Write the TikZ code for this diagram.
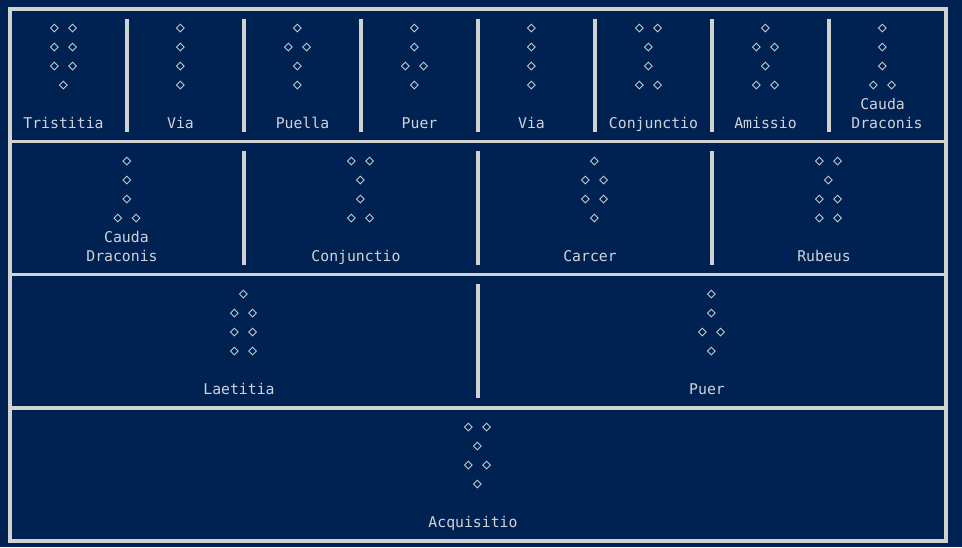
\documentclass[tikz,border=0pt]{standalone}
\usepackage{fontspec}
\setmonofont{DejaVu Sans Mono}
\usetikzlibrary{positioning}
\definecolor{navy}{RGB}{0,34,82}
\definecolor{rulegray}{RGB}{210,210,210}
\definecolor{inkgray}{RGB}{208,211,216}

\begin{document}
\begin{tikzpicture}[x=1pt,y=-1pt]
\tikzstyle{every node}+=[inner sep=0pt]
\tikzstyle{dia}=[text=inkgray,font=\ttfamily\fontsize{15.2}{19}\selectfont,yshift=-1.5pt]
\tikzstyle{figname}=[text=inkgray,font=\ttfamily\fontsize{14.8}{19}\selectfont,align=center,anchor=base]
\tikzstyle{rule}=[draw=rulegray,line width=3.6pt]
\fill [navy] (0,0) rectangle (962,547);
% frame and row rules
\draw [rule] (10,9) rectangle (946,541);
\draw [rule] (10,141.5) -- (946,141.5);
\draw [rule] (10,274.5) -- (946,274.5);
\draw [rule] (10,408) -- (946,408);
% column rules
\draw [rule] (127,18.5) -- (127,131.5);
\draw [rule] (244,18.5) -- (244,131.5);
\draw [rule] (361,18.5) -- (361,131.5);
\draw [rule] (478,18.5) -- (478,131.5);
\draw [rule] (595,18.5) -- (595,131.5);
\draw [rule] (712,18.5) -- (712,131.5);
\draw [rule] (829,18.5) -- (829,131.5);
\draw [rule] (244,151) -- (244,265);
\draw [rule] (478,151) -- (478,265);
\draw [rule] (712,151) -- (712,265);
\draw [rule] (478,284) -- (478,398);
% row 1
\node [dia] (tristitia-1) at (63.5,27) {◇ ◇};
\node [dia] (tristitia-2) at (63.5,46) {◇ ◇};
\node [dia] (tristitia-3) at (63.5,65) {◇ ◇};
\node [dia] (tristitia-4) at (63.5,84) {◇};
\node [figname] (tristitia) at (63.5,128) {Tristitia};
\node [dia] (via-1) at (180.5,27) {◇};
\node [dia] (via-2) at (180.5,46) {◇};
\node [dia] (via-3) at (180.5,65) {◇};
\node [dia] (via-4) at (180.5,84) {◇};
\node [figname] (via) at (180.5,128) {Via};
\node [dia] (puella-1) at (297.5,27) {◇};
\node [dia] (puella-2) at (297.5,46) {◇ ◇};
\node [dia] (puella-3) at (297.5,65) {◇};
\node [dia] (puella-4) at (297.5,84) {◇};
\node [figname] (puella) at (302.5,128) {Puella};
\node [dia] (puer-1) at (414.5,27) {◇};
\node [dia] (puer-2) at (414.5,46) {◇};
\node [dia] (puer-3) at (414.5,65) {◇ ◇};
\node [dia] (puer-4) at (414.5,84) {◇};
\node [figname] (puer) at (419.5,128) {Puer};
\node [dia] (via2-1) at (531.5,27) {◇};
\node [dia] (via2-2) at (531.5,46) {◇};
\node [dia] (via2-3) at (531.5,65) {◇};
\node [dia] (via2-4) at (531.5,84) {◇};
\node [figname] (via2) at (531.5,128) {Via};
\node [dia] (conjunctio-1) at (648.5,27) {◇ ◇};
\node [dia] (conjunctio-2) at (648.5,46) {◇};
\node [dia] (conjunctio-3) at (648.5,65) {◇};
\node [dia] (conjunctio-4) at (648.5,84) {◇ ◇};
\node [figname] (conjunctio) at (653.5,128) {Conjunctio};
\node [dia] (amissio-1) at (765.5,27) {◇};
\node [dia] (amissio-2) at (765.5,46) {◇ ◇};
\node [dia] (amissio-3) at (765.5,65) {◇};
\node [dia] (amissio-4) at (765.5,84) {◇ ◇};
\node [figname] (amissio) at (765.5,128) {Amissio};
\node [dia] (cauda-1) at (882.5,27) {◇};
\node [dia] (cauda-2) at (882.5,46) {◇};
\node [dia] (cauda-3) at (882.5,65) {◇};
\node [dia] (cauda-4) at (882.5,84) {◇ ◇};
\node [figname] (cauda) at (887,128) {Cauda\phantom{a}\\Draconis};
% row 2
\node [dia] (cauda2-1) at (127,160) {◇};
\node [dia] (cauda2-2) at (127,179) {◇};
\node [dia] (cauda2-3) at (127,198) {◇};
\node [dia] (cauda2-4) at (127,217) {◇ ◇};
\node [figname] (cauda2) at (122,261) {\phantom{a}Cauda\\Draconis};
\node [dia] (conjunctio2-1) at (360.5,160) {◇ ◇};
\node [dia] (conjunctio2-2) at (360.5,179) {◇};
\node [dia] (conjunctio2-3) at (360.5,198) {◇};
\node [dia] (conjunctio2-4) at (360.5,217) {◇ ◇};
\node [figname] (conjunctio2) at (356,261) {Conjunctio};
\node [dia] (carcer-1) at (594.5,160) {◇};
\node [dia] (carcer-2) at (594.5,179) {◇ ◇};
\node [dia] (carcer-3) at (594.5,198) {◇ ◇};
\node [dia] (carcer-4) at (594.5,217) {◇};
\node [figname] (carcer) at (590,261) {Carcer};
\node [dia] (rubeus-1) at (828.5,160) {◇ ◇};
\node [dia] (rubeus-2) at (828.5,179) {◇};
\node [dia] (rubeus-3) at (828.5,198) {◇ ◇};
\node [dia] (rubeus-4) at (828.5,217) {◇ ◇};
\node [figname] (rubeus) at (824,261) {Rubeus};
% row 3
\node [dia] (laetitia-1) at (243.5,293) {◇};
\node [dia] (laetitia-2) at (243.5,312) {◇ ◇};
\node [dia] (laetitia-3) at (243.5,331) {◇ ◇};
\node [dia] (laetitia-4) at (243.5,350) {◇ ◇};
\node [figname] (laetitia) at (239,394) {Laetitia};
\node [dia] (puer2-1) at (711.5,293) {◇};
\node [dia] (puer2-2) at (711.5,312) {◇};
\node [dia] (puer2-3) at (711.5,331) {◇ ◇};
\node [dia] (puer2-4) at (711.5,350) {◇};
\node [figname] (puer2) at (707,394) {Puer};
% row 4
\node [dia] (acquisitio-1) at (477.5,426) {◇ ◇};
\node [dia] (acquisitio-2) at (477.5,445) {◇};
\node [dia] (acquisitio-3) at (477.5,464) {◇ ◇};
\node [dia] (acquisitio-4) at (477.5,483) {◇};
\node [figname] (acquisitio) at (473,527) {Acquisitio};
\end{tikzpicture}
\end{document}
